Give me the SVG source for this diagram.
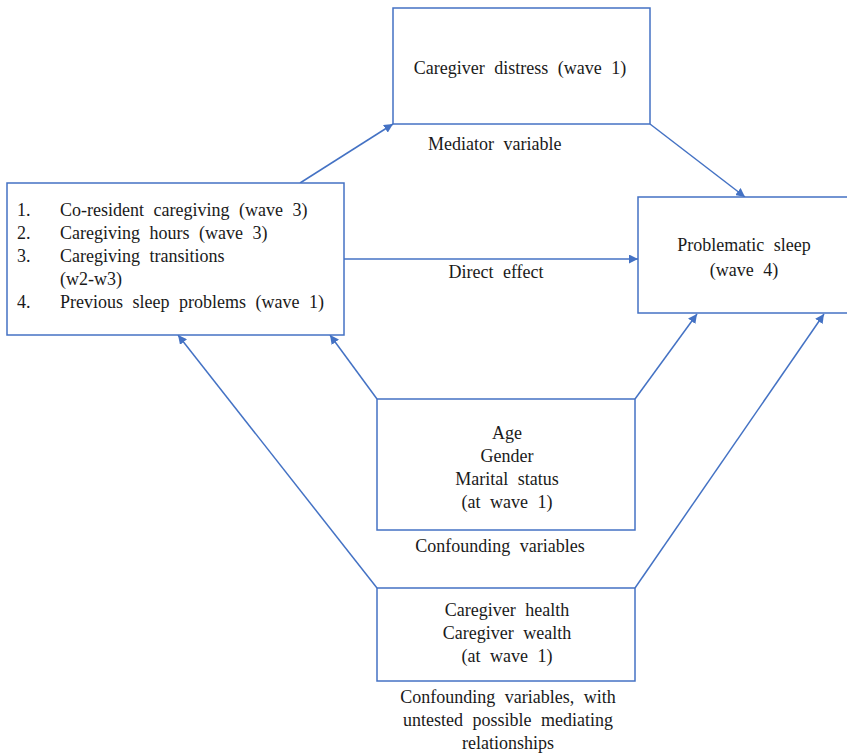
<svg xmlns="http://www.w3.org/2000/svg" width="847" height="753" viewBox="0 0 847 753" font-family="Liberation Serif, Times New Roman, serif">
<style>
.box{fill:#fff;stroke:#4472C4;stroke-width:1.5}
text{font-family:'Liberation Serif','Times New Roman',serif;font-size:18px;fill:#1a1a1a;word-spacing:5px}
.m{text-anchor:middle}
.c{stroke:#4472C4;stroke-width:1.5;fill:none;marker-end:url(#ah)}
</style>
<defs>
<marker id="ah" viewBox="0 0 10 10" refX="10" refY="5" markerWidth="9" markerHeight="9" markerUnits="userSpaceOnUse" orient="auto">
<path d="M0,0 L10,5 L0,10 z" fill="#4472C4"/>
</marker>
</defs>
<rect width="847" height="753" fill="#fff"/>
<g id="connectors">
<line class="c" x1="300" y1="183" x2="393" y2="124"/>
<line class="c" x1="650" y1="124" x2="745" y2="197"/>
<line class="c" x1="344" y1="259" x2="638" y2="259"/>
<line class="c" x1="377" y1="399" x2="330" y2="335"/>
<line class="c" x1="635" y1="399" x2="697" y2="314"/>
<line class="c" x1="377" y1="588" x2="178" y2="335"/>
<line class="c" x1="635" y1="588" x2="824" y2="314"/>
</g>
<g id="distress">
<rect class="box" x="393" y="8" width="257" height="116"/>
<text class="m" x="520" y="74">Caregiver distress (wave 1)</text>
<text x="428" y="150">Mediator variable</text>
</g>
<g id="exposures">
<rect class="box" x="7" y="183" width="337" height="152"/>
<text x="17" y="216">1.</text>
<text x="60" y="216">Co-resident caregiving (wave 3)</text>
<text x="17" y="239">2.</text>
<text x="60" y="239">Caregiving hours (wave 3)</text>
<text x="17" y="262">3.</text>
<text x="60" y="262">Caregiving transitions</text>
<text x="60" y="285">(w2-w3)</text>
<text x="17" y="308">4.</text>
<text x="60" y="308">Previous sleep problems (wave 1)</text>
</g>
<g id="direct">
<text class="m" x="496" y="278">Direct effect</text>
</g>
<g id="sleep">
<rect class="box" x="638" y="197" width="215" height="116"/>
<text class="m" x="744" y="251">Problematic sleep</text>
<text class="m" x="744" y="276">(wave 4)</text>
</g>
<g id="confounders">
<rect class="box" x="377" y="399" width="258" height="131"/>
<text class="m" x="507" y="439">Age</text>
<text class="m" x="507" y="462">Gender</text>
<text class="m" x="507" y="485">Marital status</text>
<text class="m" x="507" y="508">(at wave 1)</text>
<text class="m" x="500" y="552">Confounding variables</text>
</g>
<g id="health">
<rect class="box" x="377" y="588" width="258" height="93"/>
<text class="m" x="507" y="616">Caregiver health</text>
<text class="m" x="507" y="639">Caregiver wealth</text>
<text class="m" x="507" y="662">(at wave 1)</text>
<text class="m" x="508" y="703">Confounding variables, with</text>
<text class="m" x="508" y="726">untested possible mediating</text>
<text class="m" x="508" y="749">relationships</text>
</g>
</svg>
